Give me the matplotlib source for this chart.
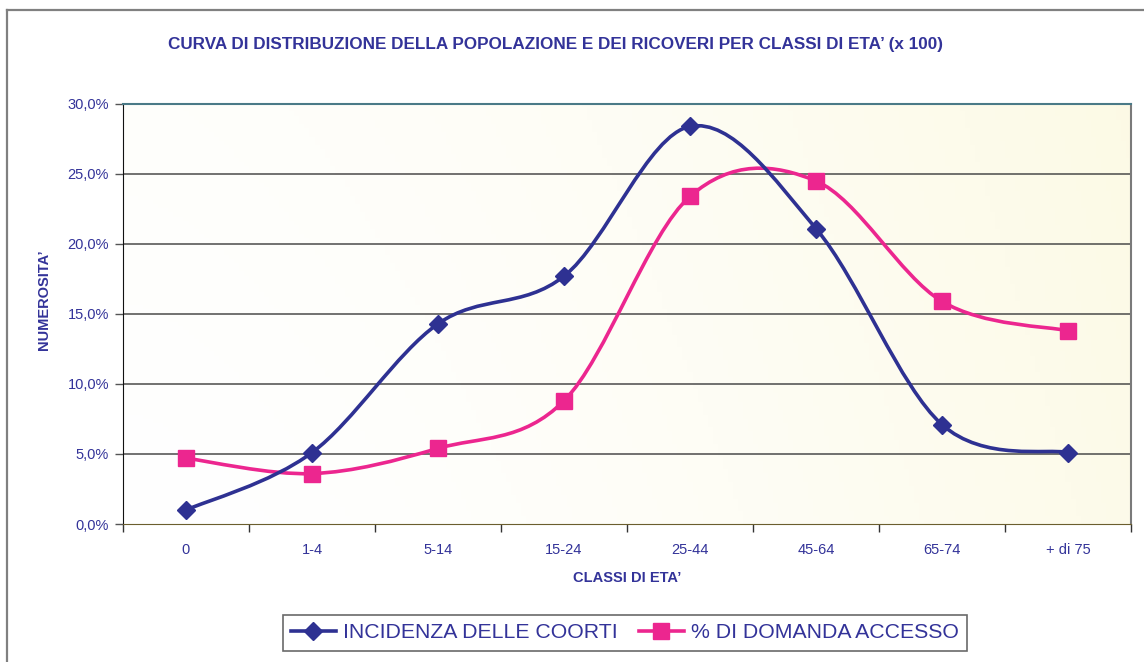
import numpy as np
import matplotlib.pyplot as plt
from matplotlib.path import Path
from matplotlib.patches import PathPatch
from matplotlib.lines import Line2D
from matplotlib.ticker import FuncFormatter, FixedLocator

# Age classes and the two series (percent)
classi = ['0', '1-4', '5-14', '15-24', '25-44', '45-64', '65-74', '+ di 75']
incidenza = [1.0, 5.1, 14.3, 17.7, 28.4, 21.1, 7.1, 5.1]
domanda = [4.7, 3.6, 5.4, 8.8, 23.4, 24.5, 15.9, 13.8]

blu = '#2E3192'
rosa = '#EC268F'
testo = '#333399'

plt.rcParams['font.family'] = ['Liberation Sans', 'DejaVu Sans']


def smooth_path(x, y):
    # Bezier path through the points, like the spreadsheet's "smoothed line"
    pts = np.column_stack([x, y]).astype(float)
    n = len(pts)
    verts = [pts[0]]
    codes = [Path.MOVETO]
    for i in range(n - 1):
        p0 = pts[i - 1] if i > 0 else pts[i]
        p1 = pts[i]
        p2 = pts[i + 1]
        p3 = pts[i + 2] if i + 2 < n else pts[i + 1]
        verts += [p1 + (p2 - p0) / 6, p2 - (p3 - p1) / 6, p2]
        codes += [Path.CURVE4] * 3
    return Path(verts, codes)


fig = plt.figure(figsize=(11.44, 6.62), dpi=100)
ax = fig.add_axes([123 / 1144, 1 - 524 / 662, (1131 - 123) / 1144, (524 - 104) / 662])

x = np.arange(len(classi))

# pale gradient background (white on the left, light cream on the right)
gx = np.linspace(0, 1, 200)
gy = np.linspace(0, 1, 100)
G = np.clip(0.85 * gx[None, :] ** 1.6 + 0.15 * gy[:, None], 0, 1)
c0 = np.array([1.0, 1.0, 1.0])
c1 = np.array([0.99, 0.98, 0.90])
img = c0[None, None, :] * (1 - G[..., None]) + c1[None, None, :] * G[..., None]
ax.imshow(img, extent=[-0.5, 7.5, 0, 30], origin='lower', aspect='auto', zorder=0)

for v in [5, 10, 15, 20, 25]:
    ax.axhline(v, color='#4a4a4a', lw=1.1, zorder=1)

ax.add_patch(PathPatch(smooth_path(x, domanda), fill=False, edgecolor=rosa, lw=2.6, zorder=3))
ax.plot(x, domanda, ls='none', marker='s', ms=11, color=rosa, zorder=4)
ax.add_patch(PathPatch(smooth_path(x, incidenza), fill=False, edgecolor=blu, lw=2.6, zorder=5))
ax.plot(x, incidenza, ls='none', marker='D', ms=9.5, color=blu, zorder=6)

ax.set_xlim(-0.5, 7.5)
ax.set_ylim(0, 30)
ax.set_xticks(x)
ax.set_xticklabels(classi)
ax.xaxis.set_minor_locator(FixedLocator(np.arange(-0.5, 8, 1)))
ax.tick_params(axis='x', which='major', length=0, pad=14, labelsize=10.5, labelcolor=testo)
ax.tick_params(axis='x', which='minor', length=6, width=1, color='#333333', direction='out')
ax.set_yticks(range(0, 31, 5))
ax.yaxis.set_major_formatter(FuncFormatter(lambda v, p: f'{v:.1f}%'.replace('.', ',')))
ax.tick_params(axis='y', length=6, width=1, color='#555555', pad=4, labelsize=10.5, labelcolor=testo)

ax.spines['left'].set_color('#111111')
ax.spines['bottom'].set_color('#6b5e2e')
ax.spines['top'].set_color('#4a7a87')
ax.spines['top'].set_linewidth(1.5)
ax.spines['right'].set_color('#7a7a7a')
ax.spines['right'].set_linewidth(1.5)

ax.set_xlabel('CLASSI DI ETA’', fontsize=10.5, fontweight='bold', color=testo, labelpad=10)
fig.text(44 / 1144, 1 - 300 / 662, 'NUMEROSITA’', rotation=90, fontsize=10.5,
         fontweight='bold', color=testo, ha='center', va='center')
fig.text(556 / 1144, 1 - 44 / 662,
         'CURVA DI DISTRIBUZIONE DELLA POPOLAZIONE E DEI RICOVERI PER CLASSI DI ETA’ (x 100)',
         fontsize=12.3, fontweight='bold', color=testo, ha='center', va='center')

# outer chart frame
fig.add_artist(Line2D([7 / 1144, 7 / 1144], [0, 1 - 10 / 662], color='#808080', lw=1.6,
                      transform=fig.transFigure))
fig.add_artist(Line2D([7 / 1144, 1], [1 - 10 / 662, 1 - 10 / 662], color='#808080', lw=1.6,
                      transform=fig.transFigure))

h1 = Line2D([], [], color=blu, lw=2.6, marker='D', ms=9.5)
h2 = Line2D([], [], color=rosa, lw=2.6, marker='s', ms=11)
leg = fig.legend([h1, h2], ['INCIDENZA DELLE COORTI', '% DI DOMANDA ACCESSO'],
                 loc='center', bbox_to_anchor=(625 / 1144, 1 - 633 / 662), ncol=2,
                 fontsize=15.3, frameon=True, fancybox=False, handlelength=2.1,
                 handletextpad=0.35, columnspacing=1.0, borderpad=0.4)
leg.get_frame().set_edgecolor('#444444')
leg.get_frame().set_linewidth(1.2)
for t in leg.get_texts():
    t.set_color(testo)

fig.savefig('out.png', dpi=100)
